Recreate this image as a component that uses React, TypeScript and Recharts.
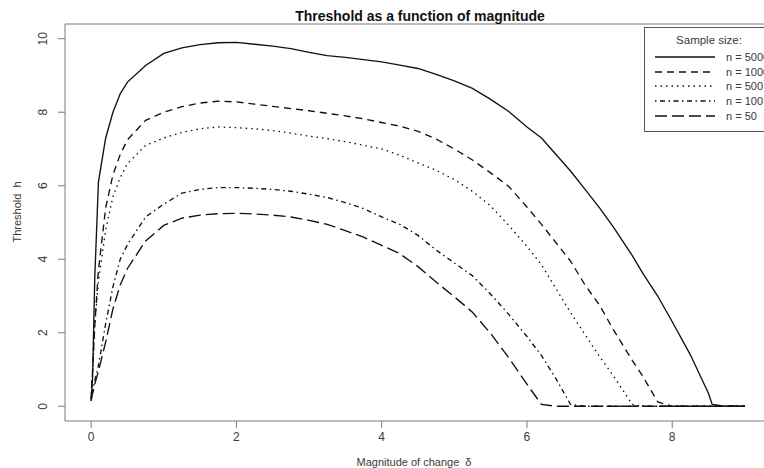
import React from "react";
import { LineChart, Line, XAxis, YAxis, ReferenceArea } from "recharts";

const DELTA = [0, 0.02, 0.05, 0.1, 0.2, 0.3, 0.4, 0.5, 0.75, 1, 1.25, 1.5, 1.75, 2, 2.25, 2.5, 2.75, 3, 3.25, 3.5, 3.75, 4, 4.25, 4.5, 4.75, 5, 5.25, 5.5, 5.75, 6, 6.2, 6.4, 6.6, 6.8, 7, 7.2, 7.45, 7.6, 7.8, 8, 8.25, 8.5, 8.55, 8.75, 9];

const H5000 = [0.15, 0.8, 3.5, 6.1, 7.3, 8.0, 8.5, 8.82, 9.27, 9.6, 9.75, 9.84, 9.89, 9.9, 9.85, 9.8, 9.73, 9.63, 9.54, 9.49, 9.43, 9.37, 9.28, 9.19, 9.03, 8.85, 8.65, 8.35, 8.02, 7.6, 7.3, 6.85, 6.4, 5.9, 5.4, 4.85, 4.1, 3.6, 3.0, 2.3, 1.4, 0.35, 0.05, 0, 0];
const H1000 = [0.2, 1.0, 2.2, 3.7, 5.4, 6.3, 6.85, 7.25, 7.78, 8.0, 8.15, 8.25, 8.3, 8.28, 8.22, 8.16, 8.1, 8.04, 7.97, 7.9, 7.82, 7.72, 7.62, 7.48, 7.27, 7.0, 6.7, 6.35, 5.98, 5.42, 4.95, 4.45, 3.95, 3.3, 2.75, 2.05, 1.25, 0.8, 0.12, 0, 0, 0, 0, 0, 0];
const H500 = [0.2, 0.9, 2.2, 3.4, 4.8, 5.7, 6.22, 6.6, 7.1, 7.3, 7.45, 7.55, 7.6, 7.58, 7.55, 7.5, 7.43, 7.35, 7.28, 7.2, 7.1, 7.0, 6.83, 6.62, 6.42, 6.17, 5.85, 5.45, 4.92, 4.35, 3.85, 3.2, 2.55, 1.95, 1.35, 0.8, 0.05, 0, 0, 0, 0, 0, 0, 0, 0];
const H100 = [0.2, 0.4, 0.7, 1.1, 2.25, 3.25, 4.0, 4.4, 5.15, 5.5, 5.8, 5.9, 5.95, 5.95, 5.93, 5.9, 5.85, 5.77, 5.68, 5.54, 5.38, 5.15, 4.95, 4.65, 4.25, 3.9, 3.55, 3.05, 2.5, 1.9, 1.38, 0.75, 0.05, 0, 0, 0, 0, 0, 0, 0, 0, 0, 0, 0, 0];
const H50 = [0.15, 0.35, 0.6, 0.95, 1.75, 2.65, 3.3, 3.75, 4.5, 4.92, 5.12, 5.2, 5.24, 5.25, 5.23, 5.2, 5.15, 5.06, 4.95, 4.78, 4.6, 4.38, 4.15, 3.8, 3.38, 2.98, 2.56, 1.98, 1.32, 0.6, 0.05, 0, 0, 0, 0, 0, 0, 0, 0, 0, 0, 0, 0, 0, 0];

const SERIES_KEYS = ["n5000", "n1000", "n500", "n100", "n50"];
const SERIES_NAMES = ["n = 5000", "n = 1000", "n = 500", "n = 100", "n = 50"];
const SERIES_DASH = ["", "7 5", "1.5 4", "1.5 3.5 5 3.5", "12 5"];

const X_TICKS = [0, 2, 4, 6, 8];
const Y_TICKS = [0, 2, 4, 6, 8, 10];

const TITLE = "Threshold as a function of magnitude";
const X_LABEL = "Magnitude of change\u00a0\u00a0\u03b4";
const Y_LABEL = "Threshold\u00a0\u00a0h";
const LEGEND_TITLE = "Sample size:";

const SERIES_VALUES = [H5000, H1000, H500, H100, H50];
const data = DELTA.map((d, i) => {
  const row: any = { d };
  SERIES_KEYS.forEach((k, j) => (row[k] = SERIES_VALUES[j][i]));
  return row;
});

const FONT = "'Liberation Sans', Arial, Helvetica, sans-serif";
const LINE = "#111";
const BOX = "#7a7a7a";
const TXT = "#3a3a3a";

const YTick = (props: any) => {
  const { y, payload } = props;
  const cx = 43;
  return (
    <text
      x={cx}
      y={y}
      transform={`rotate(-90, ${cx}, ${y})`}
      textAnchor="middle"
      dominantBaseline="central"
      fontSize={12}
      fontFamily={FONT}
      fill={TXT}
    >
      {payload.value}
    </text>
  );
};

export default function App() {
  const legendRows = [57, 72, 86, 101, 116];
  return (
    <div style={{ position: "absolute", left: 0, top: 0, width: 764, height: 468, overflow: "hidden", background: "#fff", fontFamily: FONT }}>
      <LineChart width={771} height={468} data={data} margin={{ top: 24, right: 0, bottom: 0, left: 0 }}>
        <XAxis
          dataKey="d"
          type="number"
          domain={[-0.36, 9.36]}
          ticks={X_TICKS}
          allowDataOverflow
          axisLine={false}
          tickSize={7}
          tickLine={{ stroke: BOX }}
          tickMargin={4}
          height={47}
          tick={{ fontSize: 12, fill: TXT, fontFamily: FONT }}
        />
        <YAxis
          type="number"
          domain={[-0.4, 10.4]}
          ticks={Y_TICKS}
          allowDataOverflow
          axisLine={false}
          tickSize={7}
          tickLine={{ stroke: BOX }}
          width={65}
          tick={<YTick />}
        />
        <ReferenceArea x1={-0.36} x2={9.36} y1={-0.4} y2={10.4} fill="none" stroke={BOX} strokeWidth={1} ifOverflow="visible" />
        {SERIES_KEYS.map((k, i) => (
          <Line
            key={k}
            dataKey={k}
            type="linear"
            stroke={LINE}
            strokeWidth={1.35}
            strokeDasharray={SERIES_DASH[i] || undefined}
            dot={false}
            isAnimationActive={false}
          />
        ))}
      </LineChart>
      <svg width={764} height={468} style={{ position: "absolute", left: 0, top: 0, pointerEvents: "none" }}>
        <text x={420} y={16} textAnchor="middle" dominantBaseline="central" fontSize={14} fontWeight="bold" fontFamily={FONT} fill="#111">
          {TITLE}
        </text>
        <text x={414} y={462} textAnchor="middle" dominantBaseline="central" fontSize={11} fontFamily={FONT} fill={TXT}>
          {X_LABEL}
        </text>
        <text x={17} y={212} transform="rotate(-90, 17, 212)" textAnchor="middle" dominantBaseline="central" fontSize={11} fontFamily={FONT} fill={TXT}>
          {Y_LABEL}
        </text>
        <rect x={644.5} y={27.5} width={140} height={104} fill="#fff" stroke="#555" strokeWidth={1} />
        <text x={709} y={40} textAnchor="middle" dominantBaseline="central" fontSize={11.5} fontFamily={FONT} fill={TXT}>
          {LEGEND_TITLE}
        </text>
        {SERIES_NAMES.map((n, i) => (
          <g key={n}>
            <line x1={655} x2={715} y1={legendRows[i]} y2={legendRows[i]} stroke={LINE} strokeWidth={1.35} strokeDasharray={SERIES_DASH[i] || undefined} />
            <text x={726} y={legendRows[i]} dominantBaseline="central" fontSize={11} fontFamily={FONT} fill={TXT}>
              {n}
            </text>
          </g>
        ))}
      </svg>
    </div>
  );
}
